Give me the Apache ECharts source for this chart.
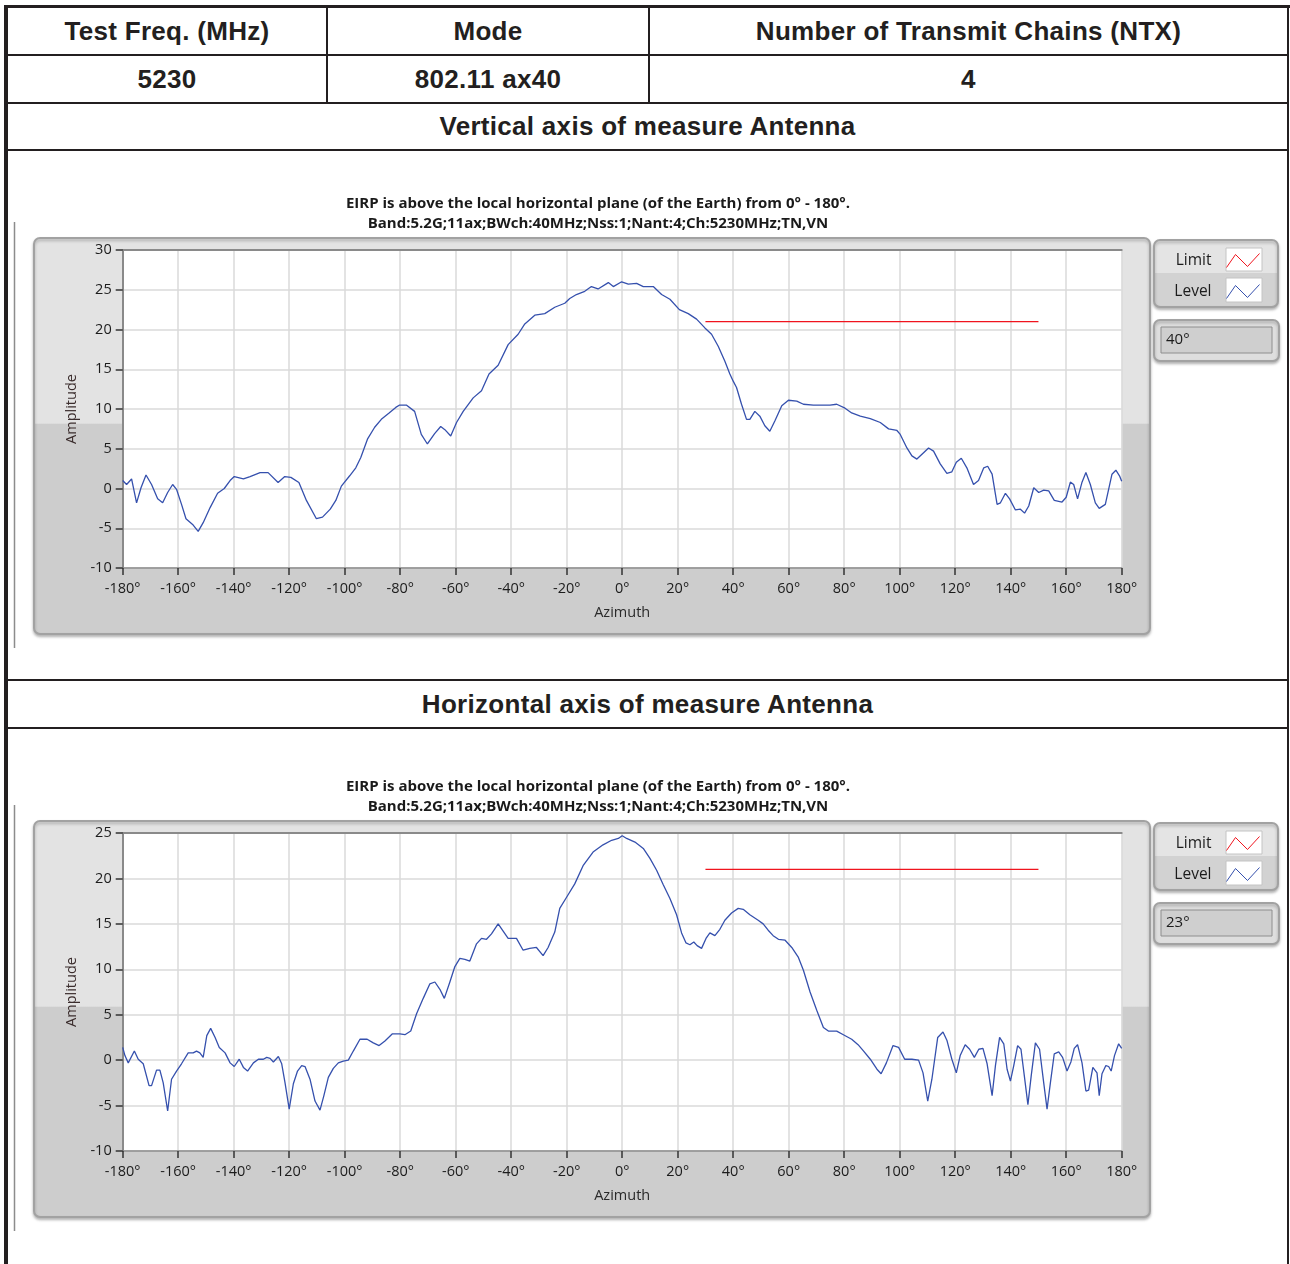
<!DOCTYPE html>
<html><head><meta charset="utf-8">
<script src="https://cdn.jsdelivr.net/npm/echarts@6/dist/echarts.min.js"></script>
<style>
html,body{margin:0;padding:0;background:#fff;}
#page{position:relative;width:1290px;height:1264px;overflow:hidden;font-family:"Liberation Sans",Arial,sans-serif;}
.ln{position:absolute;background:#231f20;}
.cell{position:absolute;display:flex;align-items:center;justify-content:center;font-weight:bold;font-size:26px;color:#231f20;letter-spacing:0.3px;}
.chart{position:absolute;left:8px;width:1279px;}
</style></head><body>
<div id="page">
  <div class="ln" style="left:4px;top:5px;width:1286px;height:3px"></div>
  <div class="ln" style="left:4px;top:5px;width:4px;height:1259px"></div>
  <div class="ln" style="left:1287px;top:5px;width:2px;height:1259px"></div>
  <div class="ln" style="left:4px;top:54px;width:1285px;height:2px"></div>
  <div class="ln" style="left:4px;top:102px;width:1285px;height:2px"></div>
  <div class="ln" style="left:4px;top:149px;width:1285px;height:2px"></div>
  <div class="ln" style="left:4px;top:679px;width:1285px;height:2px"></div>
  <div class="ln" style="left:4px;top:727px;width:1285px;height:2px"></div>
  <div class="ln" style="left:326px;top:8px;width:2px;height:95px"></div>
  <div class="ln" style="left:648px;top:8px;width:2px;height:95px"></div>
  <div class="cell" style="left:8px;top:8px;width:318px;height:46px">Test Freq. (MHz)</div>
  <div class="cell" style="left:328px;top:8px;width:320px;height:46px">Mode</div>
  <div class="cell" style="left:650px;top:8px;width:637px;height:46px">Number of Transmit Chains (NTX)</div>
  <div class="cell" style="left:8px;top:56px;width:318px;height:46px">5230</div>
  <div class="cell" style="left:328px;top:56px;width:320px;height:46px">802.11 ax40</div>
  <div class="cell" style="left:650px;top:56px;width:637px;height:46px">4</div>
  <div class="cell" style="left:8px;top:104px;width:1279px;height:45px">Vertical axis of measure Antenna</div>
  <div class="cell" style="left:8px;top:681px;width:1279px;height:46px">Horizontal axis of measure Antenna</div>
  <div id="c1" class="chart" style="top:152px;height:527px"></div>
  <div id="c2" class="chart" style="top:735px;height:529px"></div>
</div>
<script>
// ---- data (azimuth in degrees, level in dBm) ----
const chartTitle = [
  'EIRP is above the local horizontal plane (of the Earth) from 0° - 180°.',
  'Band:5.2G;11ax;BWch:40MHz;Nss:1;Nant:4;Ch:5230MHz;TN,VN'
];
const seriesNames = ['Limit', 'Level'];
const elevationLabels = ['40°', '23°'];
const azimuthRange = [-180, 180];
const verticalAmpRange = [-10, 30];
const horizontalAmpRange = [-10, 25];
const verticalLimit = [[30, 21], [150, 21]];
const horizontalLimit = [[30, 21], [150, 21]];

const verticalLevel = [
[-180,1.0],[-178.6,0.5],[-176.8,1.2],[-175,-1.8],[-173.4,0.1],[-171.6,1.7],[-169.6,0.5],[-167.4,-1.3],
[-165.6,-1.8],[-163.8,-0.5],[-162,0.5],[-160.6,-0.1],[-158.8,-2.0],[-157.2,-3.8],[-154.6,-4.6],[-152.8,-5.4],
[-151,-4.3],[-148.5,-2.4],[-145.8,-0.6],[-143.4,0],[-141.3,1.0],[-139.8,1.5],[-136.5,1.2],[-134.1,1.5],
[-130.5,2.0],[-127.6,2.0],[-124,0.75],[-121.6,1.5],[-119.4,1.4],[-116.5,0.75],[-113.8,-1.5],[-110.2,-3.8],
[-108,-3.6],[-105.2,-2.6],[-103.2,-1.5],[-101.2,0.3],[-98.2,1.6],[-96,2.6],[-94.2,3.9],[-91.8,6.2],
[-89.2,7.7],[-86.8,8.7],[-84,9.5],[-81.6,10.2],[-80.2,10.5],[-77.8,10.5],[-74.8,9.7],[-72.4,6.8],
[-70.2,5.6],[-67.6,6.9],[-65.4,7.8],[-63.9,7.4],[-61.8,6.6],[-59.7,8.3],[-57.3,9.7],[-53.7,11.4],
[-50.7,12.3],[-48,14.4],[-44.7,15.5],[-41.1,18.1],[-37.5,19.4],[-35.1,20.7],[-31.5,21.8],[-27.9,22.0],
[-24.3,22.8],[-20.7,23.3],[-18.9,23.9],[-16.5,24.4],[-13.5,24.8],[-11.1,25.4],[-8.7,25.1],[-5,25.9],
[-3.2,25.4],[-0.2,26.0],[2.2,25.7],[5.2,25.8],[7.6,25.4],[11.2,25.4],[14.2,24.4],[17.2,23.8],
[20.6,22.5],[23.8,22.0],[26.8,21.3],[29.8,20.2],[32.2,19.4],[34.6,17.9],[37,16.0],[38.8,14.4],
[40,13.5],[41.2,12.7],[43,10.6],[44.8,8.7],[46,8.7],[47.8,9.7],[49.6,9.1],[51.4,7.9],
[53.2,7.2],[55,8.5],[57.5,10.4],[59.9,11.1],[62.9,11.0],[65.3,10.6],[68.9,10.5],[74.9,10.5],
[77.3,10.6],[80.3,10.1],[82.7,9.5],[85.8,9.1],[89.4,8.8],[93,8.3],[96,7.5],[99,7.3],
[100.2,6.8],[102.6,5.1],[104.4,4.1],[106.2,3.7],[108.6,4.5],[110.4,5.1],[112.2,4.7],[114.6,3.1],
[117,1.9],[118.8,2.1],[120.4,3.3],[122.2,3.8],[124.2,2.6],[126.6,0.5],[128.4,1.0],[130.3,2.6],
[131.7,2.8],[133.3,1.8],[135.1,-2.0],[136.3,-1.8],[138.1,-0.6],[139.6,-1.3],[141.7,-2.7],[143.5,-2.6],
[145,-3.1],[146.5,-2.2],[148.3,0.1],[150.1,-0.5],[151.9,-0.2],[153.7,-0.3],[155.7,-1.5],[158.5,-1.7],
[160,-1.1],[161.5,0.8],[162.7,0.5],[164.1,-1.3],[165.7,0.8],[167.1,2.0],[168.7,0.5],[170.5,-1.8],
[171.9,-2.5],[174.1,-2.0],[176.5,1.8],[177.9,2.3],[179.2,1.6],[180,0.9]
];

const horizontalLevel = [
[-180,1.4],[-179.2,0.5],[-178,-0.3],[-175.8,1.0],[-174.4,0.1],[-172.6,-0.4],[-170.5,-2.8],[-169.6,-2.8],
[-167.8,-1.1],[-166.6,-1.1],[-165.4,-2.5],[-163.8,-5.6],[-162.4,-2.1],[-160.6,-1.2],[-158.8,-0.4],[-156.4,0.8],
[-154.6,0.8],[-153.4,1.0],[-152.2,0.8],[-151,0.3],[-149.7,2.7],[-148.3,3.5],[-146.7,2.5],[-145.2,1.4],
[-143.1,0.8],[-141.3,-0.3],[-139.8,-0.7],[-138,0.1],[-136.5,-0.8],[-135,-1.2],[-132.9,-0.3],[-131.1,0.1],
[-129.3,0.1],[-128.1,0.3],[-126.9,0.2],[-125.7,-0.2],[-123.9,0.4],[-122.7,-0.4],[-121.5,-2.5],[-120,-5.4],
[-118.5,-2.6],[-117,-1.2],[-115.5,-0.6],[-114.3,-0.7],[-112.5,-2.1],[-110.7,-4.5],[-108.9,-5.5],[-107.5,-3.9],
[-105.9,-1.9],[-104.1,-0.9],[-102.3,-0.3],[-100.5,-0.1],[-98.7,0],[-96.9,1.0],[-94.5,2.3],[-91.9,2.3],
[-89.7,1.9],[-87.6,1.6],[-85.5,2.1],[-82.8,2.9],[-80.1,2.9],[-78.3,2.8],[-76.2,3.2],[-74.1,5.1],
[-71.7,6.8],[-69.3,8.4],[-67.5,8.6],[-65.7,7.8],[-64.1,6.8],[-62.1,8.6],[-60.3,10.3],[-58.5,11.2],
[-56.7,11.1],[-54.9,10.9],[-52.5,12.8],[-50.7,13.4],[-48.9,13.3],[-47.1,13.9],[-44.7,15.0],[-42.9,14.2],
[-41.1,13.4],[-38.1,13.4],[-35.7,12.1],[-33.3,12.3],[-30.9,12.4],[-28.5,11.5],[-26.7,12.4],[-24.3,14.1],
[-22.5,16.7],[-20.1,17.9],[-17.1,19.4],[-14.1,21.4],[-10.5,22.9],[-6.9,23.7],[-3.8,24.2],[-1.4,24.4],
[0,24.7],[1.6,24.4],[4.6,24.0],[7.6,23.3],[10,22.2],[12.4,20.9],[14.8,19.3],[17.2,17.8],
[19.6,16.0],[21.4,14.0],[23,12.9],[24.4,12.7],[25.8,13.0],[27,12.6],[28.6,12.3],[30.2,13.4],
[31.6,14.0],[33.4,13.7],[35.2,14.4],[37,15.4],[39.4,16.2],[41.8,16.7],[43.6,16.6],[46,16.0],
[49,15.4],[50.8,15.0],[52.6,14.3],[54.4,13.7],[56.3,13.3],[58.7,13.2],[61.1,12.4],[63.5,11.3],
[65.3,9.9],[67.7,7.5],[70.1,5.5],[72.5,3.6],[74.3,3.2],[77.3,3.2],[79.7,2.8],[82.7,2.3],
[85,1.7],[87,1.0],[89.4,0.1],[91.8,-1.0],[93.3,-1.5],[95.2,-0.3],[97.6,1.6],[99.6,1.4],
[101.8,0.1],[104.4,0.1],[106.8,0.0],[108.4,-1.4],[110.1,-4.5],[111.6,-2.1],[113.7,2.5],[115.6,3.1],
[117,2.2],[118.8,0.1],[120.4,-1.4],[121.8,0.5],[123.6,1.7],[125.2,1.2],[126.9,0.3],[128.5,1.2],
[130,1.3],[131.5,-0.4],[133.3,-3.9],[134.5,-0.6],[136,2.5],[137.5,1.8],[138.7,-1.0],[139.9,-2.3],
[141.1,-0.6],[142.5,1.6],[143.7,1.2],[144.9,-1.7],[146.2,-4.9],[147.4,-1.7],[148.9,1.9],[150.4,1.2],
[151.9,-2.5],[153.1,-5.4],[154.3,-2.5],[155.7,0.7],[157.3,0.9],[158.7,0.3],[160.3,-1.2],[161.7,-0.2],
[162.9,1.3],[164.1,1.7],[165.7,-0.3],[167.1,-3.4],[168.1,-3.3],[169.6,-0.8],[171.1,-1.4],[171.9,-3.9],
[172.9,-1.5],[174.3,-0.6],[175.3,-0.7],[176.2,-1.2],[177.4,0.5],[178.9,1.8],[180,1.3]
];

// ---- styling ----
const FONT = '"Open Sans", "Noto Sans", sans-serif';
const LIMIT_COLOR = '#f0141e';
const LEVEL_COLOR = '#3550ad';
const ZIG = 'path://M0,14L9,1L21,13L33,0';

function makeOption(level, limit, ampRange, elevation) {
  const W = 1279;
  return {
    animation: false,
    title: {
      text: chartTitle.join('\n'),
      left: 585, top: 37, textAlign: 'center',
      textStyle: { fontFamily: FONT, fontSize: 15, fontWeight: 'bold', color: '#1a1a1a', lineHeight: 20 }
    },
    legend: [
      { data: [{ name: seriesNames[0], icon: ZIG, itemStyle: { color: 'none', borderColor: LIMIT_COLOR, borderWidth: 1 } }],
        right: W - 1254, top: 99, align: 'right', padding: 0, itemWidth: 33, itemHeight: 14,
        selectedMode: false,
        textStyle: { fontFamily: FONT, fontSize: 15.5, color: '#1c1c1c', padding: [0, 10, 0, 0] } },
      { data: [{ name: seriesNames[1], icon: ZIG, itemStyle: { color: 'none', borderColor: LEVEL_COLOR, borderWidth: 1 } }],
        right: W - 1254, top: 130, align: 'right', padding: 0, itemWidth: 33, itemHeight: 14,
        selectedMode: false,
        textStyle: { fontFamily: FONT, fontSize: 15.5, color: '#1c1c1c', padding: [0, 10, 0, 0] } }
    ],
    graphic: [
      // left margin rule
      { type: 'line', z: -20, shape: { x1: 6.5, y1: 70, x2: 6.5, y2: 496 }, style: { stroke: '#8c8c8c', lineWidth: 1.5 } },
      // graph frame panel
      { type: 'rect', z: -10, shape: { x: 26, y: 86, width: 1116, height: 396, r: 6 },
        style: { fill: { type: 'linear', x: 0, y: 0, x2: 0, y2: 1, colorStops: [
          { offset: 0, color: '#e3e3e3' }, { offset: 0.468, color: '#e3e3e3' },
          { offset: 0.47, color: '#cdcdcd' }, { offset: 1, color: '#cdcdcd' }] },
          stroke: '#a2a2a2', lineWidth: 2, shadowBlur: 3, shadowOffsetY: 2, shadowColor: 'rgba(0,0,0,0.25)' } },
      // legend frame
      { type: 'rect', z: -10, shape: { x: 1146, y: 88, width: 124, height: 67, r: 6 },
        style: { fill: { type: 'linear', x: 0, y: 0, x2: 0, y2: 1, colorStops: [
          { offset: 0, color: '#e4e4e4' }, { offset: 0.49, color: '#e4e4e4' },
          { offset: 0.5, color: '#d2d2d2' }, { offset: 1, color: '#d2d2d2' }] },
          stroke: '#a2a2a2', lineWidth: 2, shadowBlur: 3, shadowOffsetY: 2, shadowColor: 'rgba(0,0,0,0.25)' } },
      { type: 'rect', z: -5, shape: { x: 1218, y: 96, width: 36, height: 23 }, style: { fill: '#ffffff', stroke: '#c4c4c4', lineWidth: 1 } },
      { type: 'rect', z: -5, shape: { x: 1218, y: 126, width: 36, height: 24 }, style: { fill: '#ffffff', stroke: '#c4c4c4', lineWidth: 1 } },
      // elevation indicator
      { type: 'rect', z: -10, shape: { x: 1146, y: 168, width: 125, height: 41, r: 6 },
        style: { fill: '#dedede', stroke: '#a2a2a2', lineWidth: 2, shadowBlur: 3, shadowOffsetY: 2, shadowColor: 'rgba(0,0,0,0.25)' } },
      { type: 'rect', z: -5, shape: { x: 1153, y: 175, width: 111, height: 26 }, style: { fill: '#cfcfcf', stroke: '#8e8e8e', lineWidth: 1 } },
      { type: 'text', z: 5, style: { x: 1158, y: 188, text: elevation, fontFamily: FONT, fontSize: 15, fill: '#1c1c1c', verticalAlign: 'middle' } }
    ],
    grid: { left: 114.7, top: 98, width: 999, height: 318, show: true, backgroundColor: '#ffffff', borderWidth: 0 },
    xAxis: [
      { type: 'value', min: azimuthRange[0], max: azimuthRange[1], interval: 20,
        name: 'Azimuth', nameLocation: 'middle', nameGap: 37,
        nameTextStyle: { fontFamily: FONT, fontSize: 14.5, color: '#2a2a2a' },
        axisLine: { show: true, onZero: false, lineStyle: { color: '#8a8a8a', width: 1.5 } },
        axisTick: { show: true, length: 7, lineStyle: { color: '#333', width: 1.5 } },
        axisLabel: { formatter: v => v + '°', fontFamily: FONT, fontSize: 14.5, color: '#1c1c1c', margin: 13 },
        splitLine: { show: true, lineStyle: { color: '#dadada', width: 1.5 } } },
      { type: 'value', min: azimuthRange[0], max: azimuthRange[1], position: 'top',
        axisLine: { show: true, onZero: false, lineStyle: { color: '#8a8a8a', width: 2 } },
        axisTick: { show: false }, axisLabel: { show: false }, splitLine: { show: false } }
    ],
    yAxis: {
      type: 'value', min: ampRange[0], max: ampRange[1], interval: 5,
      name: 'Amplitude', nameLocation: 'middle', nameGap: 42, nameRotate: 90,
      nameTextStyle: { fontFamily: FONT, fontSize: 14.5, color: '#3a2c2c' },
      axisLine: { show: true, onZero: false, lineStyle: { color: '#8a8a8a', width: 2 } },
      axisTick: { show: true, length: 7, lineStyle: { color: '#333', width: 1.5 } },
      axisLabel: { fontFamily: FONT, fontSize: 14.5, color: '#1c1c1c', margin: 11 },
      splitLine: { show: true, lineStyle: { color: '#dadada', width: 1.5 } }
    },
    series: [
      { name: seriesNames[0], type: 'line', data: limit, showSymbol: false, symbol: 'none',
        lineStyle: { color: LIMIT_COLOR, width: 1.3 }, itemStyle: { color: LIMIT_COLOR }, z: 3 },
      { name: seriesNames[1], type: 'line', data: level, showSymbol: false, symbol: 'none',
        lineStyle: { color: LEVEL_COLOR, width: 1.3 }, itemStyle: { color: LEVEL_COLOR }, z: 4 }
    ]
  };
}

const c1 = echarts.init(document.getElementById('c1'), null, { renderer: 'canvas' });
c1.setOption(makeOption(verticalLevel, verticalLimit, verticalAmpRange, elevationLabels[0]));
const c2 = echarts.init(document.getElementById('c2'), null, { renderer: 'canvas' });
c2.setOption(makeOption(horizontalLevel, horizontalLimit, horizontalAmpRange, elevationLabels[1]));
</script>
</body></html>
